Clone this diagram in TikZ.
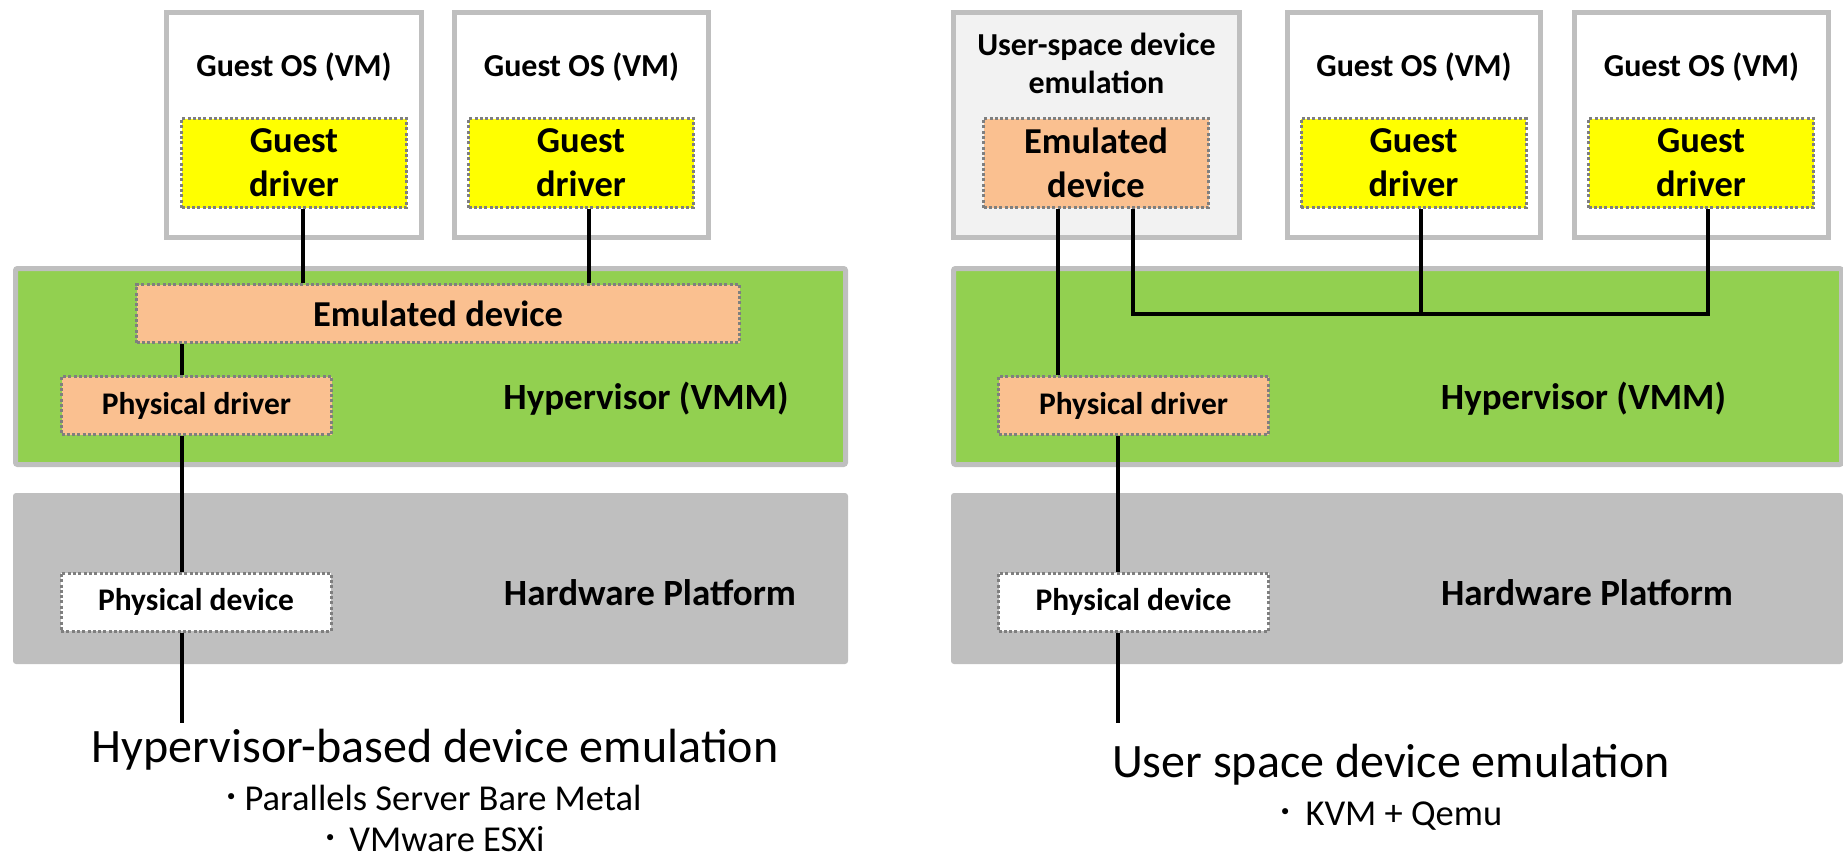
\documentclass[tikz,border=0pt]{standalone}
\usepackage{fontspec}
\setmainfont{Carlito}
\newfontfamily\jpfont{Noto Sans CJK JP}
\definecolor{hvgreen}{HTML}{92D050}
\definecolor{panelgray}{HTML}{BFBFBF}
\definecolor{emuorange}{HTML}{FAC090}
\definecolor{dotgray}{HTML}{7F7F7F}
\definecolor{userfill}{HTML}{F2F2F2}
\definecolor{gdyellow}{HTML}{FFFF00}
\begin{document}
\begin{tikzpicture}[x=1pt,y=-1pt,
  every node/.style={inner sep=0pt},
  hvpanel/.style={draw=panelgray, line width=5pt, fill=hvgreen, rounded corners=2pt, minimum height=196pt},
  hwpanel/.style={fill=panelgray, rounded corners=3pt, minimum height=171pt},
  vmbox/.style={draw=panelgray, line width=5pt, fill=white, minimum height=225pt},
  dotbox/.style={draw=dotgray, line width=3pt, dash pattern=on 3pt off 2.3pt, align=center},
  gdbox/.style={dotbox, fill=gdyellow, minimum width=225pt, minimum height=89pt, font=\fontsize{36.5}{44}\selectfont\bfseries},
  emubox/.style={dotbox, fill=emuorange},
  pbox/.style={dotbox, minimum width=270pt, minimum height=58pt, font=\fontsize{31.5}{38}\selectfont\bfseries},
  vmtitle/.style={anchor=base, font=\fontsize{32}{38}\selectfont\bfseries},
  layertxt/.style={anchor=base, font=\fontsize{37}{44}\selectfont\bfseries},
  bigtitle/.style={anchor=base, font=\fontsize{48}{58}\selectfont},
  subtitle/.style={anchor=base west, font=\fontsize{36.5}{42}\selectfont},
  conn/.style={line width=4pt, black, line join=miter}
]
\useasboundingbox (0,0) rectangle (1843,857);

% ---------- panels ----------
\node[hvpanel, minimum width=830pt] (hvL) at (430.5,366.5) {};
\node[hvpanel, minimum width=888pt] (hvR) at (1397.5,366.5) {};
\node[hwpanel, minimum width=835pt] (hwL) at (430.5,578.5) {};
\node[hwpanel, minimum width=892pt] (hwR) at (1397,578.5) {};

\node[layertxt] (hvLtxt) at (646,409) {Hypervisor (VMM)};
\node[layertxt] (hvRtxt) at (1583.5,409) {Hypervisor (VMM)};
\node[layertxt] (hwLtxt) at (650,605) {Hardware Platform};
\node[layertxt] (hwRtxt) at (1587,605) {Hardware Platform};

% ---------- VM boxes ----------
\node[vmbox, minimum width=255pt] (vm1) at (294,125) {};
\node[vmbox, minimum width=254pt] (vm2) at (581.5,125) {};
\node[vmbox, minimum width=286pt, fill=userfill] (usr) at (1096.5,125) {};
\node[vmbox, minimum width=253pt] (vm3) at (1414,125) {};
\node[vmbox, minimum width=254pt] (vm4) at (1701.5,125) {};

\node[vmtitle] (vm1t) at (294,76) {Guest OS (VM)};
\node[vmtitle] (vm2t) at (581.5,76) {Guest OS (VM)};
\node[vmtitle] (vm3t) at (1414,76) {Guest OS (VM)};
\node[vmtitle] (vm4t) at (1701.5,76) {Guest OS (VM)};
\node[align=center, font=\fontsize{32}{38}\selectfont\bfseries] (usrt) at (1096.5,63) {User-space device\\emulation};

% ---------- connector coordinates ----------
\coordinate (xa) at (303,0);
\coordinate (xb) at (589,0);
\coordinate (xl) at (181.5,0);
\coordinate (endL) at (181.5,723);
\coordinate (xe) at (1058,0);
\coordinate (busL) at (1133,314);
\coordinate (busM) at (1421,314);
\coordinate (busR) at (1708,314);
\coordinate (xr) at (1118,0);
\coordinate (endR) at (1118,723);

% ---------- inner boxes ----------
\node[gdbox] (gd1) at (294,163) {Guest\\driver};
\node[gdbox] (gd2) at (581,163) {Guest\\driver};
\node[gdbox, emubox] (emuR) at (1096,163) {Emulated\\device};
\node[gdbox] (gd3) at (1413.5,163) {Guest\\driver};
\node[gdbox] (gd4) at (1701,163) {Guest\\driver};
\node[emubox, minimum width=603pt, minimum height=58pt, font=\fontsize{36.5}{44}\selectfont\bfseries] (emuL) at (438,313.5) {Emulated device};
\node[pbox, fill=emuorange] (pdrvL) at (196.5,405.5) {Physical driver};
\node[pbox, fill=emuorange] (pdrvR) at (1133.5,405.5) {Physical driver};
\node[pbox, fill=white] (pdevL) at (196,602) {Physical device};
\node[pbox, fill=white] (pdevR) at (1133.5,602) {Physical device};

% ---------- connectors ----------
\draw[conn] (gd1.south -| xa) -- (emuL.north -| xa);
\draw[conn] (gd2.south -| xb) -- (emuL.north -| xb);
\draw[conn] (emuL.south -| xl) -- (pdrvL.north -| xl);
\draw[conn] (pdrvL.south -| xl) -- (pdevL.north -| xl);
\draw[conn] (pdevL.south -| xl) -- (endL);

\draw[conn] (emuR.south -| xe) -- (pdrvR.north -| xe);
\draw[conn] (emuR.south -| busL) -- (busL) -- (busR) -- (gd4.south -| busR);
\draw[conn] (gd3.south -| busM) -- (busM);
\draw[conn] (pdrvR.south -| xr) -- (pdevR.north -| xr);
\draw[conn] (pdevR.south -| xr) -- (endR);

% ---------- captions ----------
\node[bigtitle] (capL) at (435,762) {Hypervisor-based device emulation};
\node[subtitle] (subL1) at (222.5,810) {{\jpfont ･}\hspace{0.1em}Parallels Server Bare Metal};
\node[subtitle] (subL2) at (321.5,851) {{\jpfont ･}\hspace{0.26em}VMware ESXi};
\node[bigtitle] (capR) at (1391,777) {User space device emulation};
\node[subtitle] (subR1) at (1276.5,825) {{\jpfont ･}\hspace{0.29em}KVM + Qemu};
\end{tikzpicture}
\end{document}
